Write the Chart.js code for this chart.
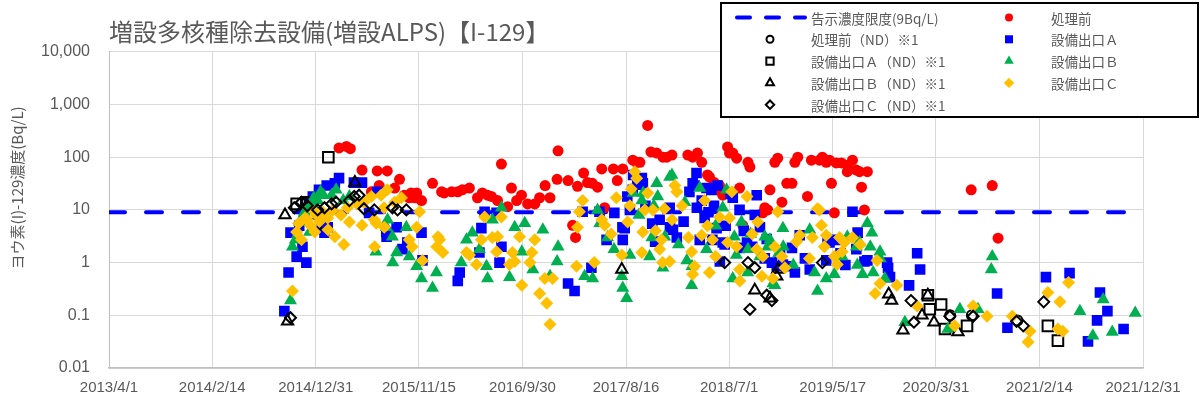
<!DOCTYPE html>
<html>
<head>
<meta charset="utf-8">
<script src="https://cdn.jsdelivr.net/npm/chart.js@4.4.1/dist/chart.umd.min.js"></script>
<style>
  body { margin: 0; background: #fff; }
</style>
</head>
<body>
<canvas id="scatterChart" width="1203" height="403"></canvas>
<script>
// axis ticks
const tickDates = ['2013/4/1','2014/2/14','2014/12/31','2015/11/15','2016/9/30','2017/8/16','2018/7/1','2019/5/17','2020/3/31','2021/2/14','2021/12/31'];
const yTicks = [0.01, 0.1, 1, 10, 100, 1000, 10000];
const limitValue = 9;

// 処理前
const beforeTreatment = [
  ['2015-03-13',150],['2015-04-05',160],['2015-04-17',145],['2015-05-23',57],['2015-06-21',22],['2015-07-09',55],['2015-07-15',29],
  ['2015-08-09',55],['2015-09-01',26],['2015-09-16',38],['2015-10-01',19],['2015-10-16',17],['2015-10-22',21],['2015-11-02',17],
  ['2015-11-08',21],['2015-11-23',15],['2015-12-27',32],['2016-01-24',22],['2016-02-01',21],['2016-02-24',22],['2016-03-14',22],
  ['2016-03-28',24],['2016-04-19',26],['2016-05-14',17],['2016-05-29',21],['2016-06-14',19],['2016-06-26',18],['2016-07-15',15],
  ['2016-07-27',74],['2016-08-15',11.5],['2016-08-27',26],['2016-09-12',15],['2016-09-27',19],['2016-10-16',13],['2016-11-07',13],
  ['2016-11-22',17],['2016-12-09',29],['2016-12-24',17],['2017-01-15',38],['2017-01-18',132],['2017-02-18',36],['2017-03-04',5.1],
  ['2017-03-13',3.0],['2017-03-19',28],['2017-04-07',50],['2017-04-19',33],['2017-05-04',32],['2017-05-20',27],['2017-06-02',60],
  ['2017-06-11',11],['2017-07-08',60],['2017-07-20',36],['2017-08-06',60],['2017-09-06',88],['2017-09-18',80],['2017-09-28',80],
  ['2017-10-22',400],['2017-11-01',126],['2017-11-19',120],['2017-12-08',100],['2017-12-20',100],['2018-01-05',110],['2018-02-23',110],
  ['2018-03-10',100],['2018-03-25',120],['2018-04-07',80],['2018-04-25',46],['2018-05-01',42],['2018-05-16',33],['2018-05-26',24],
  ['2018-06-01',29],['2018-06-11',19],['2018-06-26',157],['2018-07-02',120],['2018-07-12',120],['2018-07-24',96],['2018-08-02',26],
  ['2018-08-12',5.1],['2018-08-28',80],['2018-09-03',65],['2018-10-13',8.8],['2018-10-19',11],['2018-10-28',10],['2018-11-04',24],
  ['2018-11-19',80],['2018-11-28',96],['2018-12-11',14],['2018-12-26',32],['2019-01-11',32],['2019-01-20',80],['2019-01-29',100],
  ['2019-02-28',18],['2019-03-12',88],['2019-04-06',88],['2019-04-15',100],['2019-04-27',80],['2019-05-07',88],['2019-05-13',32],
  ['2019-05-22',8.8],['2019-05-28',78],['2019-06-13',78],['2019-07-01',53],['2019-07-02',70],['2019-07-17',88],['2019-07-29',57],
  ['2019-08-08',53],['2019-08-14',27],['2019-08-23',10],['2019-09-01',53],['2020-07-18',24],['2020-09-21',29],['2020-10-09',2.9]
];
// 処理前（ND）
const beforeND = [['2020-05-14',0.1],['2020-07-20',0.1],['2020-12-08',0.08]];

// 設備出口A
const outletA = [
  ['2014-09-25',0.12],['2014-10-08',0.65],['2014-10-14',3.7],['2014-11-02',1.3],['2014-11-10',5],['2014-11-20',2.0],['2014-11-25',9],
  ['2014-12-02',1.0],['2014-12-10',14],['2014-12-22',18],['2015-01-10',24],['2015-01-18',4.7],
  ['2015-01-27',3.7],['2015-02-03',29],['2015-02-06',4.7],['2015-02-28',32],['2015-03-13',40],['2015-04-28',33],['2015-05-23',33],
  ['2015-06-14',8.8],['2015-07-09',22],['2015-08-06',3.8],['2015-08-07',3.1],['2015-09-07',4.7],['2015-09-25',1.8],['2015-10-10',2.4],
  ['2015-11-23',3.7],['2015-11-26',1.1],['2016-03-14',0.45],['2016-03-20',0.65],['2016-05-20',1.55],['2016-05-26',4.5],['2016-06-05',9.2],
  ['2016-07-12',8.8],['2016-07-21',1.0],['2016-07-27',2.0],['2017-02-18',0.4],['2017-03-10',0.29],['2017-04-04',9.2],['2017-05-01',0.8],
  ['2017-05-26',9.2],['2017-06-17',2.7],['2017-07-11',8.8],['2017-08-05',4.7],['2017-08-06',2.7],['2017-08-12',4.5],['2017-08-20',18],
  ['2017-08-28',10],['2017-09-06',24],['2017-09-07',46],['2017-09-20',30],['2017-10-04',40],['2017-10-07',32],['2017-10-15',12],
  ['2017-11-05',5.5],['2017-11-14',2.5],['2017-11-28',6.5],['2017-12-29',11],['2017-12-30',4.7],['2018-01-08',4.2],['2018-01-20',3],
  ['2018-02-10',6],['2018-02-28',22],['2018-03-10',32],['2018-03-16',29],['2018-03-22',50],['2018-03-23',11],['2018-04-01',2.7],
  ['2018-04-07',15],['2018-04-16',7],['2018-04-22',26],['2018-04-28',9],['2018-05-07',24],['2018-05-10',2.7],['2018-05-15',12],
  ['2018-05-23',4.5],['2018-05-26',29],['2018-06-02',1.05],['2018-06-11',2.4],['2018-06-17',2.2],['2018-06-20',5],['2018-07-05',20],
  ['2018-07-12',17],['2018-08-02',10],['2018-08-03',1.9],['2018-08-15',4],['2018-08-25',2.4],['2018-09-10',2],
  ['2018-09-18',8],['2018-09-24',19],['2018-10-04',4.7],['2018-10-19',1.2],['2018-10-25',2.8],['2018-11-10',1.0],['2018-11-25',0.85],
  ['2018-12-05',1.5],['2018-12-14',0.92],['2018-12-26',0.85],['2019-01-11',1.9],['2019-01-20',0.65],['2019-02-04',3.3],['2019-02-20',1.2],
  ['2019-03-07',0.74],['2019-04-27',1.1],['2019-05-01',2.5],['2019-05-07',2.4],['2019-05-28',2.7],['2019-06-10',1.5],['2019-06-25',0.9],
  ['2019-07-17',9.2],['2019-07-29',1.8],['2019-08-02',3.7],['2019-08-23',1.05],['2019-09-01',1.1],
  ['2019-11-01',1.0],['2019-11-04',0.8],['2019-11-10',0.53],['2020-01-08',0.37],['2020-02-02',1.5],['2020-02-11',0.74],['2020-10-06',0.26],
  ['2020-11-07',0.058],['2021-03-06',0.53],['2021-05-18',0.63],['2021-07-14',0.032],['2021-08-11',0.08],['2021-08-20',0.27],
  ['2021-09-12',0.12],['2021-11-01',0.055]
];
// 設備出口A（ND）
const outletAND = [
  ['2014-11-02',13],['2014-12-02',14],['2014-12-18',14],['2014-12-30',5.4],['2015-02-08',100],['2020-03-06',0.24],['2020-03-12',0.13],
  ['2020-04-16',0.16],['2020-04-28',0.055],['2020-07-05',0.063],['2021-03-12',0.063],['2021-04-12',0.033]
];

// 設備出口B
const outletB = [
  ['2014-10-14',0.19],['2014-10-20',2.0],['2014-10-29',2.7],['2014-11-05',3.5],['2014-11-11',5.9],['2014-11-26',8.8],['2014-12-01',10],
  ['2014-12-12',3.8],['2014-12-18',13],['2014-12-25',17],['2015-01-06',15],['2015-01-15',22],['2015-01-24',19],['2015-02-18',19],
  ['2015-03-04',24],['2015-03-26',15],['2015-04-14',18],['2015-07-05',1.6],
  ['2015-08-06',4.7],['2015-08-10',6.5],['2015-08-25',3.1],['2015-08-26',1.0],['2015-09-07',1.55],['2015-10-07',4.7],['2015-10-16',1.3],
  ['2015-11-08',0.85],['2015-11-23',0.5],['2015-12-27',0.33],['2016-01-08',0.65],['2016-03-25',1.0],['2016-04-10',2.7],['2016-04-28',3.7],
  ['2016-05-20',1.8],['2016-06-11',0.85],['2016-06-14',0.5],['2016-06-29',6.5],['2016-07-27',11],['2016-08-21',0.53],['2016-09-06',4.7],
  ['2016-09-28',1.6],['2016-10-07',5.6],['2016-11-01',0.74],['2016-12-02',4.2],['2016-12-24',0.55],['2017-01-15',1.05],['2017-01-18',2.0],
  ['2017-04-10',0.55],['2017-05-05',0.5],['2017-05-20',10],['2017-05-27',5.6],['2017-06-20',3],['2017-07-10',1.8],['2017-08-03',0.55],
  ['2017-08-06',0.33],['2017-08-18',0.21],['2017-08-28',1.4],['2017-09-07',21],['2017-09-25',8],['2017-10-04',15],['2017-10-08',21],
  ['2017-10-28',1.3],['2017-11-04',3.0],['2017-11-10',12],['2017-11-19',32],['2017-11-22',18],['2017-12-08',0.8],['2017-12-14',3.1],
  ['2017-12-29',42],['2018-01-05',46],['2018-01-25',2.2],['2018-02-14',14],['2018-02-20',1.1],['2018-03-07',0.37],['2018-03-08',0.85],
  ['2018-04-01',26],['2018-04-22',1.8],['2018-05-20',5],['2018-06-11',11],['2018-06-23',24],['2018-07-12',0.5],['2018-07-17',3.1],
  ['2018-07-23',1.4],['2018-08-08',5.9],['2018-08-27',0.65],['2018-08-28',1.8],['2018-09-05',3.5],['2018-10-04',1.3],['2018-10-19',3.1],
  ['2018-10-28',2.0],['2018-11-04',2.7],['2018-11-13',0.4],['2018-11-19',0.37],['2018-12-01',1.5],['2018-12-14',4.5],['2018-12-15',2.0],
  ['2019-01-15',0.9],['2019-03-07',4.2],['2019-03-22',0.65],['2019-03-31',0.29],['2019-04-27',0.5],['2019-05-22',0.6],['2019-06-15',1.3],
  ['2019-07-01',3.1],['2019-07-29',2.0],['2019-08-01',0.9],['2019-08-08',2.4],
  ['2019-08-17',0.6],['2019-09-01',5.6],['2019-09-10',2.0],['2019-09-15',3.7],['2019-09-19',0.65],['2019-10-10',1.6],['2019-10-11',1.2],
  ['2019-10-25',0.5],['2019-12-26',0.074],['2020-05-07',0.055],['2020-06-13',0.13],['2020-08-08',0.13],['2020-09-18',0.74],
  ['2020-09-21',1.3],['2021-06-19',0.12],['2021-07-29',0.041],['2021-08-30',0.2],['2021-09-27',0.048],['2021-12-07',0.11]
];
// 設備出口B（ND）
const outletBND = [
  ['2014-09-27',8],['2014-10-05',0.077],['2015-05-01',33],['2017-08-03',0.74],['2018-09-18',0.3],['2018-11-04',0.21],['2018-11-25',0.55],
  ['2018-11-28',0.74],['2019-11-06',0.25],['2019-11-15',0.19],['2019-12-20',0.052],['2020-02-17',0.1],['2020-03-06',0.24],
  ['2020-03-25',0.074],['2020-06-07',0.048]
];

// 設備出口C
const outletC = [
  ['2014-10-20',0.29],['2014-11-02',3.8],['2014-11-08',5.5],['2014-11-17',2.7],['2014-11-28',7],['2014-12-05',6.5],['2014-12-15',5],
  ['2014-12-27',9.2],['2014-12-28',3.8],['2015-01-02',8],['2015-01-12',6],['2015-01-22',9],['2015-02-06',7],
  ['2015-02-07',4.2],['2015-02-22',10],['2015-02-28',3.1],['2015-03-19',8],['2015-03-28',2.2],['2015-04-08',11],['2015-04-14',5.9],
  ['2015-05-08',13],['2015-05-23',5.1],['2015-05-29',14],['2015-06-21',18],['2015-06-30',6.5],['2015-07-01',2.0],['2015-07-06',5.6],
  ['2015-07-21',19],['2015-07-30',11],['2015-07-31',4.7],['2015-08-09',24],['2015-09-01',14],['2015-09-22',17],['2015-10-16',2.7],
  ['2015-10-25',2.0],['2015-11-08',4.7],['2015-11-17',9.2],['2015-11-26',1.1],['2016-01-09',2.0],['2016-01-13',3.1],['2016-01-18',2.7],
  ['2016-01-28',1.55],['2016-04-10',1.55],['2016-04-19',1.4],['2016-05-11',0.92],['2016-05-26',2.7],['2016-06-05',7.3],['2016-06-29',3.0],
  ['2016-07-12',1.6],['2016-07-15',3.1],['2016-07-27',7.3],['2016-08-21',0.92],['2016-08-30',1.55],['2016-09-06',1.05],['2016-09-21',3.1],
  ['2016-09-28',0.37],['2016-10-23',1.0],['2016-10-29',1.55],['2016-11-07',2.7],['2016-11-22',0.26],['2016-12-08',0.5],['2016-12-14',0.17],
  ['2016-12-24',0.068],['2017-01-01',0.5],['2017-03-16',0.85],['2017-03-19',4.7],['2017-03-25',9.2],['2017-04-04',15],['2017-05-10',1.0],
  ['2017-06-02',6.5],['2017-06-11',5.1],['2017-07-01',3.5],['2017-07-17',17],['2017-08-03',1.4],['2017-08-21',5.9],['2017-08-28',12],
  ['2017-09-01',25],['2017-09-12',53],['2017-09-18',40],['2017-10-04',1.55],['2017-10-07',3.8],['2017-10-13',10],['2017-10-22',21],
  ['2017-11-07',10],['2017-11-15',4],['2017-11-28',1.8],['2017-12-04',2.7],['2017-12-07',1.0],['2017-12-13',10.5],['2017-12-29',1.05],
  ['2018-01-05',6.5],['2018-01-14',29],['2018-01-20',22],['2018-02-05',12],['2018-02-25',3],['2018-03-07',1.6],['2018-03-10',0.6],
  ['2018-03-16',0.85],['2018-04-07',3.3],['2018-04-16',15],['2018-04-25',5],['2018-05-01',0.65],['2018-05-10',2.7],['2018-05-20',1.3],
  ['2018-06-01',7.3],['2018-06-26',2.4],['2018-07-02',7],['2018-07-09',22],['2018-07-24',2.0],['2018-08-02',0.74],['2018-08-03',0.45],
  ['2018-08-25',18],['2018-09-10',3.5],['2018-09-24',1.8],['2018-09-27',5.9],['2018-10-10',0.55],['2018-10-13',1.3],['2018-11-13',0.5],
  ['2018-11-19',2.0],['2018-11-28',9.2],['2018-12-11',1.3],['2018-12-20',0.8],['2019-01-25',2.5],['2019-02-04',3.3],['2019-03-06',1.2],
  ['2019-03-15',3.0],['2019-03-31',10.5],['2019-04-06',10],['2019-04-12',5.1],['2019-04-21',2.0],['2019-04-27',3.3],['2019-05-22',1.3],
  ['2019-05-31',0.92],['2019-06-07',3.0],['2019-06-15',1.6],['2019-06-22',2.4],['2019-07-17',3.0],['2019-08-10',2.2],['2019-09-25',0.26],
  ['2019-10-01',1.1],['2019-10-10',0.4],['2019-12-01',0.37],['2020-02-02',0.15],['2020-05-28',0.063],
  ['2020-07-24',0.15],['2020-09-05',0.096],['2020-11-22',0.096],['2021-01-10',0.031],['2021-01-16',0.05],['2021-03-12',0.27],
  ['2021-04-12',0.055],['2021-04-18',0.18],['2021-04-27',0.05],['2021-05-15',0.42]
];
// 設備出口C（ND）
const outletCND = [
  ['2014-10-14',0.09],['2014-10-26',11],['2014-11-17',14],['2014-12-05',12],['2015-01-06',10],['2015-01-27',11],['2015-02-18',13],
  ['2015-03-04',14],['2015-04-14',15],['2015-04-29',18],['2015-05-14',19],['2015-05-29',10.5],['2015-06-30',10],['2015-08-25',11],
  ['2015-09-10',10],['2015-10-07',10],['2018-06-17',1.0],['2018-08-28',1.0],['2018-09-03',0.13],['2018-09-18',0.8],['2018-10-25',0.24],
  ['2018-11-10',0.19],['2019-04-15',1.0],['2020-01-14',0.19],['2020-01-23',0.074],['2020-05-13',0.096],['2020-07-24',0.096],
  ['2020-12-05',0.077],['2020-12-26',0.063],['2021-02-27',0.18]
];

function toTime(s) {
  const p = s.split(/[-\/]/).map(Number);
  return Date.UTC(p[0], p[1] - 1, p[2]);
}
function fmtDate(t) {
  const d = new Date(t);
  return d.getUTCFullYear() + '/' + (d.getUTCMonth() + 1) + '/' + d.getUTCDate();
}
const pts = arr => arr.map(([d, v]) => ({x: toTime(d), y: v}));
const xMin = toTime(tickDates[0]);
const xMax = toTime(tickDates[tickDates.length - 1]);

const GRAY = '#595959';
const JP = '"Noto Sans CJK JP", "Noto Sans", sans-serif';
const yTitle = 'ヨウ素(I)-129濃度(Bq/L)';

function marker(label, data, style, radius, legendRadius, fill, stroke, bw, order) {
  return {
    label: label, data: pts(data), pointStyle: style, pointRadius: radius, pointHoverRadius: radius,
    backgroundColor: fill, borderColor: stroke, pointBorderWidth: bw, borderWidth: bw, order: order,
    legendRadius: legendRadius
  };
}

// Excel-like series order: later series drawn on top (lower order = on top in Chart.js)
const datasets = [
  {label: '告示濃度限度(9Bq/L)', data: [{x: xMin, y: limitValue}, {x: xMax, y: limitValue}], showLine: true,
   borderColor: '#0000FF', borderWidth: 4, borderDash: [16, 21], borderCapStyle: 'round', pointRadius: 0, order: 9, isLine: true},
  marker('処理前', beforeTreatment, 'circle', 5.5, 4, '#FF0000', '#FF0000', 0, 8),
  marker('処理前（ND）※1', beforeND, 'circle', 5, 3.5, 'rgba(0,0,0,0)', '#000000', 2, 7),
  marker('設備出口Ａ', outletA, 'rect', 7.5, 5.7, '#0000FF', '#0000FF', 0, 6),
  marker('設備出口Ａ（ND）※1', outletAND, 'rect', 7.5, 5.2, 'rgba(0,0,0,0)', '#000000', 2, 5),
  marker('設備出口Ｂ', outletB, 'triangle', 7.5, 5.5, '#00B050', '#00B050', 0, 4),
  marker('設備出口Ｂ（ND）※1', outletBND, 'triangle', 6.5, 4.6, 'rgba(0,0,0,0)', '#000000', 2, 3),
  marker('設備出口Ｃ', outletC, 'rectRot', 6.5, 5.2, '#FFC000', '#FFC000', 0, 2),
  marker('設備出口Ｃ（ND）※1', outletCND, 'rectRot', 5.5, 4.2, 'rgba(0,0,0,0)', '#000000', 2, 1)
];

// boxed two-column legend in the upper right and the y axis title, like the Excel original
const boxLegend = {
  id: 'boxLegend',
  afterDraw(chart) {
    const ctx = chart.ctx;
    ctx.save();
    ctx.translate(17, (chart.chartArea.top + chart.chartArea.bottom) / 2 - 22);
    ctx.rotate(-Math.PI / 2);
    ctx.font = '15px ' + JP;
    ctx.fillStyle = GRAY;
    ctx.textAlign = 'center';
    ctx.textBaseline = 'middle';
    ctx.fillText(yTitle, 0, 0);
    ctx.restore();

    const right = chart.width - 5, left = right - 477, top = 3, h = 114;
    ctx.save();
    ctx.fillStyle = '#ffffff';
    ctx.fillRect(left, top, right - left, h);
    ctx.strokeStyle = '#000000';
    ctx.lineWidth = 2;
    ctx.strokeRect(left, top, right - left, h);
    ctx.font = '13.5px ' + JP;
    ctx.textBaseline = 'middle';
    chart.data.datasets.forEach((ds, i) => {
      const row = Math.floor(i / 2), col = i % 2;
      const y = top + 14.5 + row * 21.8;
      const sx = col === 0 ? left + 49 : left + 288;
      const tx = col === 0 ? left + 90 : left + 330;
      if (ds.isLine) {
        ctx.strokeStyle = ds.borderColor;
        ctx.lineWidth = 4;
        ctx.lineCap = 'round';
        ctx.setLineDash([13, 16]);
        ctx.beginPath();
        ctx.moveTo(left + 16, y);
        ctx.lineTo(left + 84, y);
        ctx.stroke();
        ctx.setLineDash([]);
      } else {
        ctx.fillStyle = ds.backgroundColor;
        ctx.strokeStyle = ds.borderColor;
        ctx.lineWidth = ds.pointBorderWidth;
        Chart.helpers.drawPoint(ctx, {pointStyle: ds.pointStyle, radius: ds.legendRadius, rotation: 0, borderWidth: ds.pointBorderWidth}, sx, y);
      }
      ctx.fillStyle = GRAY;
      ctx.fillText(ds.label, tx, y + 1);
    });
    ctx.restore();
  }
};

new Chart(document.getElementById('scatterChart'), {
  type: 'scatter',
  data: {datasets: datasets},
  options: {
    responsive: false,
    animation: false,
    layout: {padding: {left: 0, right: 60, top: 0, bottom: 0}},
    plugins: {
      legend: {display: false},
      tooltip: {enabled: false},
      title: {
        display: true, text: '増設多核種除去設備(増設ALPS)【I-129】', align: 'start', fullSize: false,
        color: GRAY, font: {family: JP, size: 24, weight: 'normal'}, padding: {top: 17, bottom: 6}
      }
    },
    scales: {
      x: {
        type: 'linear', min: xMin, max: xMax,
        afterBuildTicks: s => { s.ticks = tickDates.map(d => ({value: toTime(d)})); },
        afterFit: s => { s.height = 35; },
        grid: {color: '#d9d9d9', drawTicks: false},
        border: {color: '#bfbfbf', width: 1.5},
        ticks: {color: GRAY, padding: 11, maxRotation: 0, autoSkip: false,
                font: {family: '"Liberation Sans", Arial, sans-serif', size: 15}, callback: v => fmtDate(v)}
      },
      y: {
        type: 'logarithmic', min: 0.01, max: 10000,
        afterBuildTicks: s => { s.ticks = yTicks.map(v => ({value: v})); },
        afterFit: s => { s.width = 109; },
        grid: {color: '#d9d9d9', drawTicks: false},
        border: {color: '#bfbfbf', width: 1},
        ticks: {color: GRAY, padding: 19, font: {family: '"Liberation Sans", Arial, sans-serif', size: 16},
                callback: v => v.toLocaleString('en-US', {maximumFractionDigits: 2})}
      }
    }
  },
  plugins: [boxLegend]
});
</script>
</body>
</html>
